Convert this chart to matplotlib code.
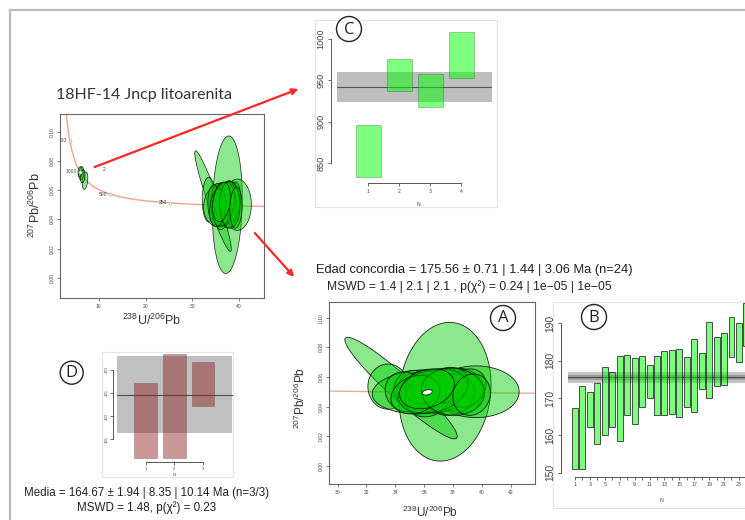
import numpy as np
import matplotlib
matplotlib.use("Agg")
import matplotlib.pyplot as plt
from matplotlib.patches import Rectangle, Ellipse, Polygon, FancyArrowPatch
from matplotlib.lines import Line2D

plt.rcParams["font.family"] = ["Liberation Sans", "DejaVu Sans"]
plt.rcParams["mathtext.default"] = "regular"

# ---------------------------------------------------------------- data
# U-Pb error ellipses: centre (238U/206Pb, 207Pb/206Pb), half-widths, correlation
ell_x = [37.45, 34.40, 39.60, 33.50, 36.00, 37.30, 36.50, 35.60, 38.20, 37.00,
         35.20, 38.60, 36.90, 34.70, 37.80, 36.30, 35.90, 38.90, 37.60, 36.60,
         35.40, 38.00, 39.30, 36.20]
ell_y = [0.0500, 0.0525, 0.0500, 0.0535, 0.0500, 0.0510, 0.0515, 0.0490, 0.0515, 0.0485,
         0.0520, 0.0495, 0.0535, 0.0500, 0.0480, 0.0475, 0.0530, 0.0525, 0.0545, 0.0505,
         0.0480, 0.0500, 0.0480, 0.0520]
ell_sx = [3.20, 3.90, 3.00, 1.40, 3.60, 2.00, 1.70, 1.50, 1.90, 1.60,
          1.30, 1.50, 1.80, 1.40, 1.70, 1.60, 1.20, 1.40, 1.50, 2.40,
          1.70, 2.20, 1.30, 1.90]
ell_sy = [0.0470, 0.0344, 0.0175, 0.0153, 0.0150, 0.0140, 0.0130, 0.0140, 0.0145, 0.0130,
          0.0125, 0.0140, 0.0120, 0.0135, 0.0140, 0.0145, 0.0115, 0.0130, 0.0120, 0.0150,
          0.0130, 0.0160, 0.0140, 0.0135]
ell_rho = [0.10, -0.95, 0.00, 0.00, 0.10, 0.15, 0.10, -0.05, 0.05, 0.10,
           0.05, 0.00, 0.20, -0.10, 0.10, 0.15, 0.10, 0.20, 0.15, 0.25,
           0.20, -0.05, 0.10, 0.25]

# older grains (~850-1000 Ma)
old_x = [7.05, 6.25, 6.55, 6.00]
old_y = [0.0665, 0.0715, 0.0695, 0.0725]
old_sx = [0.60, 0.55, 0.50, 0.45]
old_sy = [0.0060, 0.0045, 0.0045, 0.0035]
old_rho = [0.3, 0.2, 0.2, 0.1]

# concordia age
conc_age = 175.56
conc_x, conc_y, conc_sx, conc_sy = 36.22, 0.0496, 0.35, 0.0018
age_ticks = [250, 500, 1000, 1500]

# weighted-mean panel B (Ma): 2-sigma box limits per grain
b_lo = [150.9, 150.9, 162.3, 157.6, 160.1, 162.3, 158.5, 165.4, 163.0, 167.7,
        169.9, 165.4, 165.4, 165.7, 164.8, 167.5, 166.3, 172.3, 169.9, 173.2,
        173.5, 180.9, 179.7, 183.8]
b_hi = [167.2, 173.2, 171.6, 173.9, 178.2, 177.1, 181.3, 181.5, 180.6, 181.3,
        178.8, 181.3, 182.6, 182.9, 183.1, 181.1, 185.7, 182.0, 190.4, 186.4,
        187.3, 191.6, 190.0, 195.5]
b_mean, b_err1, b_err2 = 175.56, 0.71, 1.44

# panel C (Ma)
c_lo = [833.0, 937.7, 918.5, 952.6]
c_hi = [896.4, 975.9, 957.5, 1008.8]
c_mean, c_err = 942.5, 18.0

# panel D (Ma)
d_lo = [151.05, 150.96, 162.1]
d_hi = [167.25, 173.36, 171.7]
d_mean, d_err = 164.67, 8.35

title_txt = "18HF-14 Jncp litoarenita"
conc_txt1 = "Edad concordia = 175.56 \u00b1 0.71 | 1.44 | 3.06 Ma (n=24)"
conc_txt2 = "MSWD = 1.4 | 2.1 | 2.1 , p(\u03c7\u00b2) = 0.24 | 1e\u221205 | 1e\u221205"
media_txt1 = "Media = 164.67 \u00b1 1.94 | 8.35 | 10.14 Ma (n=3/3)"
media_txt2 = "MSWD = 1.48, p(\u03c7\u00b2) = 0.23"

# ---------------------------------------------------------------- helpers
W, H = 745, 520
fig = plt.figure(figsize=(W / 100, H / 100), dpi=100)
fig.patch.set_facecolor("white")

L238, L235, U85 = 1.55125e-4, 9.8485e-4, 137.818
ELL_FACE = (0.0, 0.8, 0.0, 0.45)


def tera_wasserburg(t):
    e8 = np.expm1(L238 * t)
    e5 = np.expm1(L235 * t)
    return 1.0 / e8, e5 / e8 / U85


def fx(x):
    return x / W


def fy(y):
    return 1 - y / H


def px_axes(l, t, r, b):
    return fig.add_axes([l / W, 1 - b / H, (r - l) / W, (b - t) / H])


def ellipse_xy(cx, cy, sx, sy, rho, n=120):
    a = np.linspace(0, 2 * np.pi, n)
    return np.column_stack([cx + sx * np.cos(a),
                            cy + sy * (rho * np.cos(a) + np.sqrt(1 - rho ** 2) * np.sin(a))])


def draw_ellipses(ax, xs, ys, sxs, sys_, rhos, lw=0.6):
    for cx, cy, sx, sy, r in zip(xs, ys, sxs, sys_, rhos):
        ax.add_patch(Polygon(ellipse_xy(cx, cy, sx, sy, r), closed=True,
                             fc=ELL_FACE, ec=(0, 0, 0, 0.85), lw=lw))


def fig_box(l, t, r, b, ec="#E4E4E4"):
    fig.add_artist(Rectangle((fx(l), fy(b)), (r - l) / W, (b - t) / H,
                             transform=fig.transFigure, fc="white", ec=ec, lw=0.8, zorder=-1))


def style_box(ax):
    for s in ax.spines.values():
        s.set_color("#666666")
        s.set_linewidth(0.8)
    ax.tick_params(direction="out", length=2.5, width=0.6, color="#666666",
                   labelsize=3.6, labelcolor="#444444", pad=1.5)


def rot_y(ax):
    for lab in ax.get_yticklabels():
        lab.set_rotation(90)
        lab.set_va("center")


def circle_label(cx, cy, letter, d=25):
    fig.add_artist(Ellipse((fx(cx), fy(cy)), d / W, d / H, transform=fig.transFigure,
                           fc="white", ec="#222222", lw=1.0, zorder=20))
    fig.text(fx(cx), fy(cy + 0.5), letter, ha="center", va="center", fontsize=12,
             family=["Open Sans", "DejaVu Sans"], color="#222222", zorder=21)


def wm_axes(ax, lo, hi, face, edge):
    for i, (a, b) in enumerate(zip(lo, hi), start=1):
        ax.add_patch(Rectangle((i - 0.4, a), 0.8, b - a, fc=face, ec=edge, lw=0.6, zorder=3))
    for side in ("top", "right"):
        ax.spines[side].set_visible(False)
    for side in ("left", "bottom"):
        ax.spines[side].set_color("#555555")
        ax.spines[side].set_linewidth(0.7)
    ax.set_facecolor("none")
    ax.tick_params(direction="out", length=2.5, width=0.6, color="#555555",
                   labelcolor="#444444", pad=1.5)


# ---------------------------------------------------------------- frame
fig.add_artist(Line2D([fx(10), 1.0], [fy(10), fy(10)], transform=fig.transFigure,
                      color="#BBBBBB", lw=1.6))
fig.add_artist(Line2D([fx(10), fx(10)], [fy(10), 0.0], transform=fig.transFigure,
                      color="#BBBBBB", lw=1.6))

fig.text(fx(56), fy(95), title_txt, ha="left", va="center", fontsize=11.5,
         family=["Lato", "DejaVu Sans"], color="#333333")

# ---------------------------------------------------------------- overview concordia
ax1 = px_axes(60, 114, 264, 298)
t_curve = np.linspace(100, 2000, 500)
cx_, cy_ = tera_wasserburg(t_curve)
ax1.plot(cx_, cy_, color="#F2A28C", lw=1.0, zorder=1)
for age in age_ticks:
    tx, ty = tera_wasserburg(age)
    ax1.plot(tx, ty, "o", ms=2.2, mfc="white", mec="#999999", mew=0.4, zorder=2)
    ax1.annotate(str(age), (tx, ty), xytext=(-2, 0), textcoords="offset points",
                 ha="right", va="center", fontsize=3.6, color="#444444",
                 annotation_clip=False, clip_on=True)
ax1.text(11.1, 0.074, "2", fontsize=3.6, color="#444444", ha="center", va="center")
draw_ellipses(ax1, ell_x, ell_y, ell_sx, ell_sy, ell_rho, lw=0.5)
draw_ellipses(ax1, old_x, old_y, old_sx, old_sy, old_rho, lw=0.5)
ax1.set_xlim(1.7, 45.3)
ax1.set_ylim(-0.0137, 0.112)
ax1.set_xticks([10, 20, 30, 40])
ax1.set_yticks([0.0, 0.02, 0.04, 0.06, 0.08, 0.10])
ax1.set_yticklabels([f"{v:.2f}" for v in ax1.get_yticks()])
style_box(ax1)
rot_y(ax1)
fig.text(fx(35), fy(205), r"$^{207}$Pb/$^{206}$Pb", rotation=90, ha="center", va="center",
         fontsize=9, color="#333333")
fig.text(fx(152), fy(320), r"$^{238}$U/$^{206}$Pb", ha="center", va="center",
         fontsize=9, color="#333333")

# ---------------------------------------------------------------- panel A
axA = px_axes(329, 301.7, 535, 484)
tA = np.linspace(140, 230, 200)
axA.plot(*tera_wasserburg(tA), color="#F2A28C", lw=0.9, zorder=1)
draw_ellipses(axA, ell_x, ell_y, ell_sx, ell_sy, ell_rho)
axA.add_patch(Polygon(ellipse_xy(conc_x, conc_y, conc_sx, conc_sy, 0.3), closed=True,
                      fc="white", ec="black", lw=0.5, zorder=5))
axA.set_xlim(29.4, 43.7)
axA.set_ylim(-0.0125, 0.111)
axA.set_xticks([30, 32, 34, 36, 38, 40, 42])
axA.set_yticks([0.0, 0.02, 0.04, 0.06, 0.08, 0.10])
axA.set_yticklabels([f"{v:.2f}" for v in axA.get_yticks()])
style_box(axA)
rot_y(axA)
fig.text(fx(300), fy(398), r"$^{207}$Pb/$^{206}$Pb", rotation=90, ha="center", va="center",
         fontsize=8.5, color="#333333")
fig.text(fx(430), fy(512), r"$^{238}$U/$^{206}$Pb", ha="center", va="center",
         fontsize=8.5, color="#333333")
fig.text(fx(474), fy(270), conc_txt1, ha="center", va="center", fontsize=9.3, color="#222222")
fig.text(fx(469), fy(287), conc_txt2, ha="center", va="center", fontsize=8.7, color="#222222")

# ---------------------------------------------------------------- panel B
fig_box(553, 302, 760, 508)
axB = px_axes(560.7, 297.2, 761.3, 476.7)
n_b = len(b_lo)
axB.fill_between([0, n_b + 1], b_mean - b_err2, b_mean + b_err2, color="#C4C4C4", lw=0, zorder=1)
axB.fill_between([0, n_b + 1], b_mean - b_err1, b_mean + b_err1, color="#9C9C9C", lw=0, zorder=1)
axB.plot([0, n_b + 1], [b_mean, b_mean], color="#4A4A4A", lw=0.8, zorder=2)
wm_axes(axB, b_lo, b_hi, (0, 1, 0, 0.5), "#333333")
axB.set_xlim(-0.92, 26)
axB.set_ylim(148.93, 197)
axB.spines["left"].set_bounds(150, 190)
axB.spines["bottom"].set_bounds(1, n_b)
axB.set_yticks([150, 160, 170, 180, 190])
axB.set_xticks(range(1, n_b + 1))
axB.set_xticklabels([str(i) if i % 2 else "" for i in range(1, n_b + 1)])
axB.tick_params(axis="x", labelsize=3.8)
axB.tick_params(axis="y", labelsize=7.4)
rot_y(axB)
fig.text(fx(662), fy(500), "N", ha="center", va="center", fontsize=3.8, color="#444444")

# ---------------------------------------------------------------- panel C
fig_box(315, 20, 497, 207)
axC = px_axes(330.7, 26.5, 492.2, 183.3)
n_c = len(c_lo)
axC.fill_between([0, n_c + 1], c_mean - c_err, c_mean + c_err, color="#BEBEBE", lw=0, zorder=1)
axC.plot([0, n_c + 1], [c_mean, c_mean], color="#555555", lw=0.8, zorder=2)
wm_axes(axC, c_lo, c_hi, (0, 1, 0, 0.5), (0, 0.35, 0, 0.35))
axC.set_xlim(-0.217, 5.0)
axC.set_ylim(825.9, 1015)
axC.spines["left"].set_bounds(850, 1000)
axC.spines["bottom"].set_bounds(1, n_c)
axC.set_yticks([850, 900, 950, 1000])
axC.set_xticks(range(1, n_c + 1))
axC.tick_params(axis="x", labelsize=3.6)
axC.tick_params(axis="y", labelsize=6.6)
rot_y(axC)
fig.text(fx(418), fy(205), "N", ha="center", va="center", fontsize=3.6, color="#444444")

# ---------------------------------------------------------------- panel D
fig_box(101.7, 351.7, 233.3, 476.7)
axD = px_axes(113.3, 345.0, 234.0, 461.7)
n_d = len(d_lo)
axD.fill_between([0, n_d + 1], d_mean - d_err, d_mean + d_err, color="#C0C0C0", lw=0, zorder=1)
axD.plot([0, n_d + 1], [d_mean, d_mean], color="#505050", lw=0.8, zorder=2)
wm_axes(axD, d_lo, d_hi, (0.55, 0.1, 0.1, 0.45), (0.4, 0.2, 0.2, 0.35))
axD.set_xlim(-0.125, 4.08)
axD.set_ylim(150.15, 175.4)
axD.spines["left"].set_bounds(155, 170)
axD.spines["bottom"].set_bounds(1, n_d)
axD.set_yticks([155, 160, 165, 170])
axD.set_xticks(range(1, n_d + 1))
axD.tick_params(axis="both", labelsize=3.0, length=2)
rot_y(axD)
fig.text(fx(174), fy(475), "N", ha="center", va="center", fontsize=3.0, color="#444444")
fig.text(fx(147), fy(493), media_txt1, ha="center", va="center", fontsize=8.3, color="#222222")
fig.text(fx(147), fy(508), media_txt2, ha="center", va="center", fontsize=8.4, color="#222222")

# ---------------------------------------------------------------- panel tags and arrows
circle_label(503, 318, "A")
circle_label(594, 317, "B")
circle_label(349, 29, "C")
circle_label(71.7, 372.7, "D", d=23)

for (x0, y0), (x1, y1) in [((92, 168), (301, 88)), ((253, 231), (296, 279))]:
    fig.add_artist(FancyArrowPatch((fx(x0), fy(y0)), (fx(x1), fy(y1)),
                                   transform=fig.transFigure, arrowstyle="-|>",
                                   mutation_scale=9, color="#FF2626", lw=1.6, zorder=15))

fig.savefig("out.png", dpi=100)
